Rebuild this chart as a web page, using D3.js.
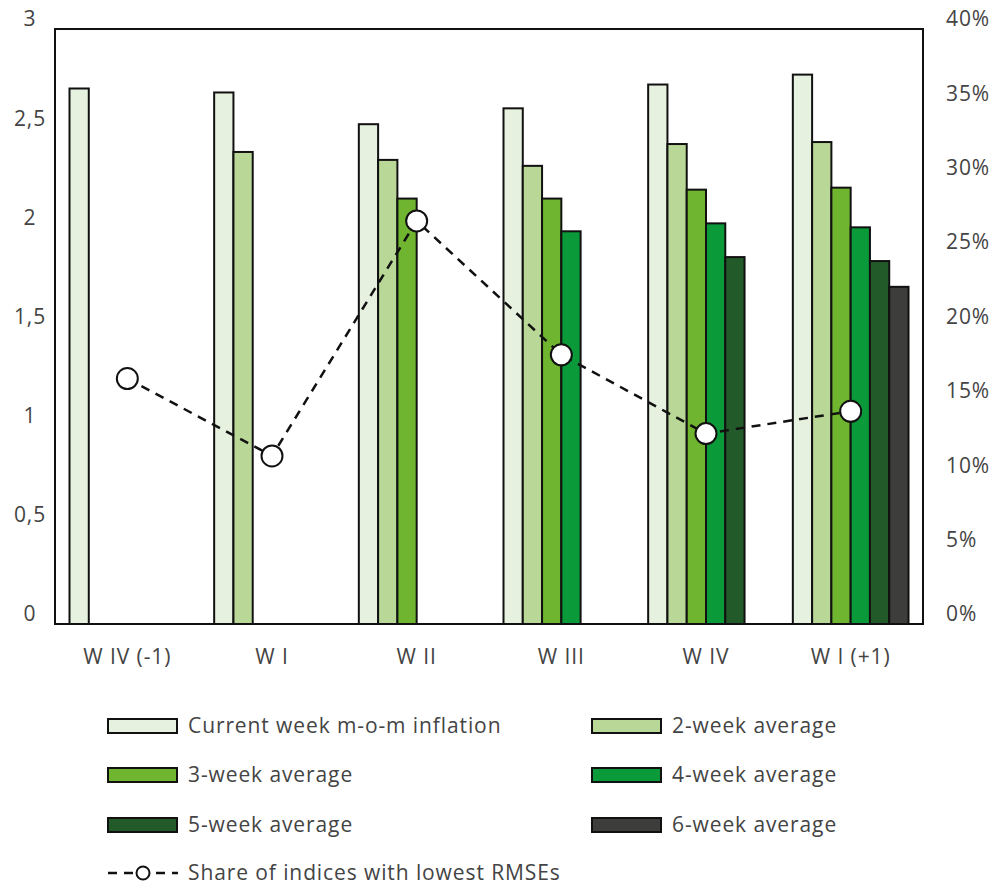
<!DOCTYPE html>
<html>
<head>
<meta charset="utf-8">
<script src="https://cdn.jsdelivr.net/npm/d3@7"></script>
<style>
  body { margin: 0; background: #fff; }
  svg text { font-family: "Open Sans", "Noto Sans", sans-serif; fill: #444; letter-spacing: 0.9px; }
</style>
</head>
<body>
<svg id="chart" width="999" height="889"></svg>
<script>
const categories = ["W IV (-1)", "W I", "W II", "W III", "W IV", "W I (+1)"];
const seriesNames = ["Current week m-o-m inflation", "2-week average", "3-week average", "4-week average", "5-week average", "6-week average"];
const seriesColors = ["#e6f1df", "#b9d898", "#6fb52f", "#0a9a3a", "#235a2a", "#3d3d3b"];
const current = [2.70, 2.68, 2.52, 2.60, 2.72, 2.77];
const avg2 = [null, 2.38, 2.34, 2.31, 2.42, 2.43];
const avg3 = [null, null, 2.145, 2.145, 2.19, 2.20];
const avg4 = [null, null, null, 1.98, 2.02, 2.00];
const avg5 = [null, null, null, null, 1.85, 1.83];
const avg6 = [null, null, null, null, null, 1.70];
const shareLowestRMSE = [0.165, 0.113, 0.271, 0.181, 0.128, 0.143];
const leftTicks = [0, 0.5, 1, 1.5, 2, 2.5, 3];
const rightTicks = [0, 0.05, 0.10, 0.15, 0.20, 0.25, 0.30, 0.35, 0.40];
const lineLabel = "Share of indices with lowest RMSEs";

const seriesValues = [current, avg2, avg3, avg4, avg5, avg6];

const svg = d3.select("#chart");
const L = 55, R = 923, T = 29, B = 624;
const FS = "21px";

const x = d3.scaleBand().domain(categories).range([L, R]).padding(0);
const xs = d3.scaleBand().domain(d3.range(6)).range([14.5, x.bandwidth() - 14.5]).padding(0);
const y = d3.scaleLinear().domain([0, 3]).range([B, T]);
const y2 = d3.scaleLinear().domain([0, 0.4]).range([B, T]);

// bars
seriesValues.forEach((vals, si) => {
  svg.append("g").selectAll("rect")
    .data(categories.map((c, i) => ({c, v: vals[i]})).filter(d => d.v != null))
    .join("rect")
    .attr("x", d => x(d.c) + xs(si))
    .attr("width", xs.bandwidth())
    .attr("y", d => y(d.v))
    .attr("height", d => y(0) - y(d.v))
    .attr("fill", seriesColors[si])
    .attr("stroke", "#111")
    .attr("stroke-width", 2);
});

// frame
svg.append("rect").attr("x", L).attr("y", T).attr("width", R - L).attr("height", B - T)
  .attr("fill", "none").attr("stroke", "#111").attr("stroke-width", 2);

// left axis
const yAxis = d3.axisLeft(y).tickValues(leftTicks).tickSize(0).tickPadding(0)
  .tickFormat(d => d3.format("")(d).replace(".", ","));
const gy = svg.append("g").attr("transform", `translate(30,0)`).call(yAxis);
gy.select(".domain").remove();
gy.selectAll("text").attr("text-anchor", "middle").attr("dy", "-0.15em")
  .style("font-size", FS).style("font-family", "'Open Sans', sans-serif").attr("fill", "#444");

// right axis
const yAxis2 = d3.axisRight(y2).tickValues(rightTicks).tickSize(0).tickPadding(0)
  .tickFormat(d3.format(".0%"));
const gy2 = svg.append("g").attr("transform", `translate(946,0)`).call(yAxis2);
gy2.select(".domain").remove();
gy2.selectAll("text").attr("dy", "-0.15em")
  .style("font-size", FS).style("font-family", "'Open Sans', sans-serif").attr("fill", "#444");

// x axis labels
const xAxis = d3.axisBottom(x).tickSize(0).tickPadding(0);
const gx = svg.append("g").attr("transform", `translate(0,${B + 25})`).call(xAxis);
gx.select(".domain").remove();
gx.selectAll("text").attr("dy", "0.71em")
  .style("font-size", FS).style("font-family", "'Open Sans', sans-serif").attr("fill", "#444");

// line
const pts = categories.map((c, i) => [x(c) + x.bandwidth() / 2, y2(shareLowestRMSE[i])]);
svg.append("path").attr("d", d3.line()(pts)).attr("fill", "none")
  .attr("stroke", "#111").attr("stroke-width", 2.5).attr("stroke-dasharray", "9,7");
svg.append("g").selectAll("circle").data(pts).join("circle")
  .attr("cx", d => d[0]).attr("cy", d => d[1]).attr("r", 10.5)
  .attr("fill", "#fff").attr("stroke", "#111").attr("stroke-width", 2);

// legend
const legendPos = [[108, 726], [592, 726], [108, 775], [592, 775], [108, 825], [592, 825]];
const lg = svg.append("g");
seriesNames.forEach((n, i) => {
  const [lx, ly] = legendPos[i];
  lg.append("rect").attr("x", lx).attr("y", ly - 7).attr("width", 69).attr("height", 14)
    .attr("fill", seriesColors[i]).attr("stroke", "#111").attr("stroke-width", 2);
  lg.append("text").attr("x", lx + 80).attr("y", ly).attr("dy", "0.35em")
    .style("font-size", FS).text(n);
});
const ly4 = 873;
lg.append("line").attr("x1", 108).attr("x2", 178).attr("y1", ly4).attr("y2", ly4)
  .attr("stroke", "#111").attr("stroke-width", 2.5).attr("stroke-dasharray", "9,7");
lg.append("circle").attr("cx", 143).attr("cy", ly4).attr("r", 6.5)
  .attr("fill", "#fff").attr("stroke", "#111").attr("stroke-width", 2);
lg.append("text").attr("x", 188).attr("y", ly4).attr("dy", "0.35em")
  .style("font-size", FS).text(lineLabel);
</script>
</body>
</html>
